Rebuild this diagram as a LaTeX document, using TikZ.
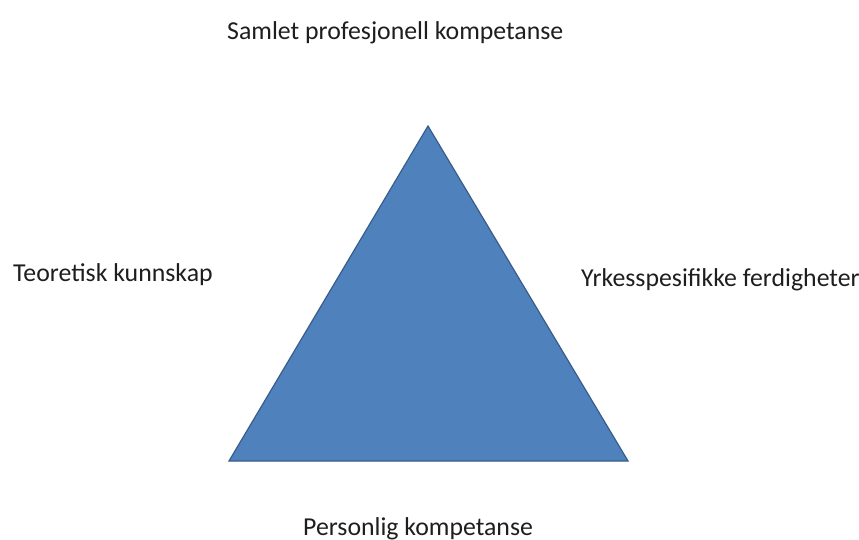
\documentclass[tikz,border=0pt]{standalone}
\usepackage{fontspec}
\setmainfont{Carlito}
\usepackage{tikz}
\definecolor{trifill}{HTML}{4F81BD}
\definecolor{triline}{HTML}{385D8A}
\definecolor{textgray}{HTML}{1E1E1E}
\tikzstyle{label_text} = [inner sep=0pt, anchor=base west, text=textgray, font=\fontsize{25.8}{30}\selectfont]
\tikzstyle{tri_shape} = [fill=trifill, draw=triline, line width=1.2pt, line join=miter]

\begin{document}
\begin{tikzpicture}[x=1pt, y=-1pt]
\useasboundingbox[fill=white] (0,0) rectangle (859,540);

\coordinate (T) at (428,126);
\coordinate (L) at (229,461);
\coordinate (R) at (628,461);

\draw[tri_shape] (T)--(R)--(L)--cycle;

\node (top) at (227,40) [label_text] {Samlet profesjonell kompetanse};
\node (left) at (13,281) [label_text] {Teoretisk kunnskap};
\node (right) at (581,286) [label_text] {Yrkesspesifikke ferdigheter};
\node (bottom) at (303,535) [label_text] {Personlig kompetanse};
\end{tikzpicture}
\end{document}
